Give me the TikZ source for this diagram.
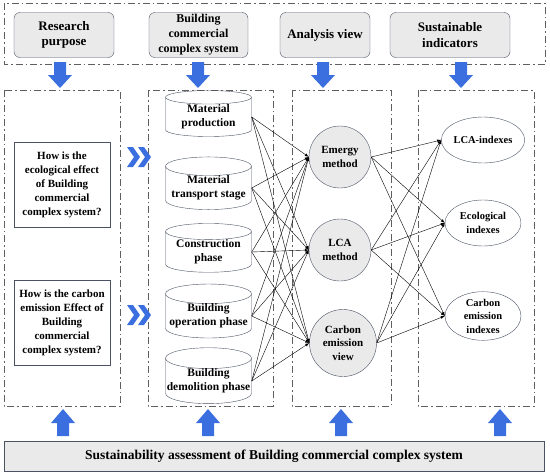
\documentclass[tikz,border=0pt]{standalone}
\usepackage{fontspec}
\setmainfont{Liberation Serif}
\usepackage{xcolor}
\usetikzlibrary{shapes,arrows,positioning}

\definecolor{boxgray}{HTML}{EAEAEA}
\definecolor{edgegray}{HTML}{4A5263}
\definecolor{framegray}{HTML}{5F5F5F}
\definecolor{arrowblue}{HTML}{3B6FE0}

\begin{document}
\begin{tikzpicture}[
    x=1pt, y=-1pt,
    headbox/.style={rectangle, draw=edgegray, fill=boxgray, rounded corners=6pt, minimum height=45pt, align=center, inner sep=2pt, font=\fontsize{13}{15.5}\selectfont\bfseries},
    dashframe/.style={draw=framegray, semithick, dash pattern=on 7pt off 3pt on 1.5pt off 3pt},
    question/.style={rectangle, draw=edgegray, minimum width=96pt, minimum height=85pt, align=center, inner sep=1pt, font=\fontsize{11}{14}\selectfont\bfseries},
    phase/.style={cylinder, shape border rotate=90, draw=edgegray, aspect=0.25, minimum width=86pt, minimum height=46pt, align=center, inner sep=0pt, font=\fontsize{11.5}{14}\selectfont\bfseries},
    method/.style={circle, draw=edgegray, fill=boxgray, minimum size=62pt, align=center, inner sep=0pt, font=\fontsize{11}{13.5}\selectfont\bfseries},
    indexbox/.style={ellipse, draw=edgegray, minimum width=76pt, minimum height=46pt, align=center, inner sep=0pt, font=\fontsize{10.5}{13.5}\selectfont\bfseries},
    arrow/.style={-latex, thin, black}
]
    \useasboundingbox (0,0) rectangle (550,474);

    % Frames
    \draw[dashframe] (4,3) rectangle (545,64);
    \draw[dashframe] (4,90) rectangle (120,406);
    \draw[dashframe] (148,90) rectangle (273,406);
    \draw[dashframe] (292,90) rectangle (391,406);
    \draw[dashframe] (418,90) rectangle (534,406);

    % Headings
    \node[headbox, minimum width=100pt] (purpose) at (64,35) {Research\\purpose};
    \node[headbox, minimum width=99pt, font=\fontsize{12}{15}\selectfont\bfseries] (system) at (198.5,35) {Building\\commercial\\complex system};
    \node[headbox, minimum width=90pt] (view) at (325,35) {Analysis view};
    \node[headbox, minimum width=120pt] (indicators) at (450,35) {Sustainable\\indicators};

    % Block arrows down and up
    \foreach \ax in {60,198,323,461}
        \fill[arrowblue, shift={(\ax,62)}] (-6,0) -- (6,0) -- (6,13) -- (12,13) -- (0,26) -- (-12,13) -- (-6,13) -- cycle;
    \foreach \ax in {63,208,341,500}
        \fill[arrowblue, shift={(\ax,436)}] (-6,0) -- (6,0) -- (6,-13) -- (12,-13) -- (0,-27) -- (-12,-13) -- (-6,-13) -- cycle;

    % Research questions
    \node[question] (ecoq) at (62,184.5) {How is the\\ecological effect\\of Building\\commercial\\complex system?};
    \node[question] (carbq) at (62,322.5) {How is the carbon\\emission Effect of\\Building\\commercial\\complex system?};

    % Chevrons
    \foreach \cy in {157,315}
        \foreach \dx in {0,11}
            \fill[arrowblue, shift={(127+\dx,\cy)}] (0,-10) -- (6,-10) -- (13,0) -- (6,10) -- (0,10) -- (7,0) -- cycle;

    % Life cycle phases
    \node[phase] (prod) at (208.5,117) {Material\\production};
    \node[phase] (trans) at (208.5,188) {Material\\transport stage};
    \node[phase] (cons) at (208.5,252) {Construction\\phase};
    \node[phase] (oper) at (208.5,316) {Building\\operation phase};
    \node[phase] (demo) at (208.5,381) {Building\\demolition phase};

    % Methods
    \node[method] (emergy) at (340,157) {Emergy\\method};
    \node[method] (lca) at (340,250) {LCA\\method};
    \node[method, minimum size=67pt] (carbon) at (343,343) {Carbon\\emission\\view};

    % Indexes
    \node[indexbox] (lcaidx) at (483,140) {LCA-indexes};
    \node[indexbox] (ecoidx) at (483,223) {Ecological\\indexes};
    \node[indexbox] (carbidx) at (483,316) {Carbon\\emission\\indexes};

    % Arrows
    \foreach \p in {prod,trans,cons,oper,demo}
        \foreach \m in {emergy,lca,carbon}
            \draw[arrow] (\p.east) -- (\m.west);
    \foreach \m in {emergy,lca,carbon}
        \foreach \i in {lcaidx,ecoidx,carbidx}
            \draw[arrow] (\m.east) -- (\i.west);

    % Assessment
    \node[rectangle, draw=edgegray, fill=boxgray, minimum width=540pt, minimum height=30pt, font=\fontsize{13.5}{15}\selectfont\bfseries] (assess) at (274,456) {Sustainability assessment of Building commercial complex system};

\end{tikzpicture}
\end{document}
